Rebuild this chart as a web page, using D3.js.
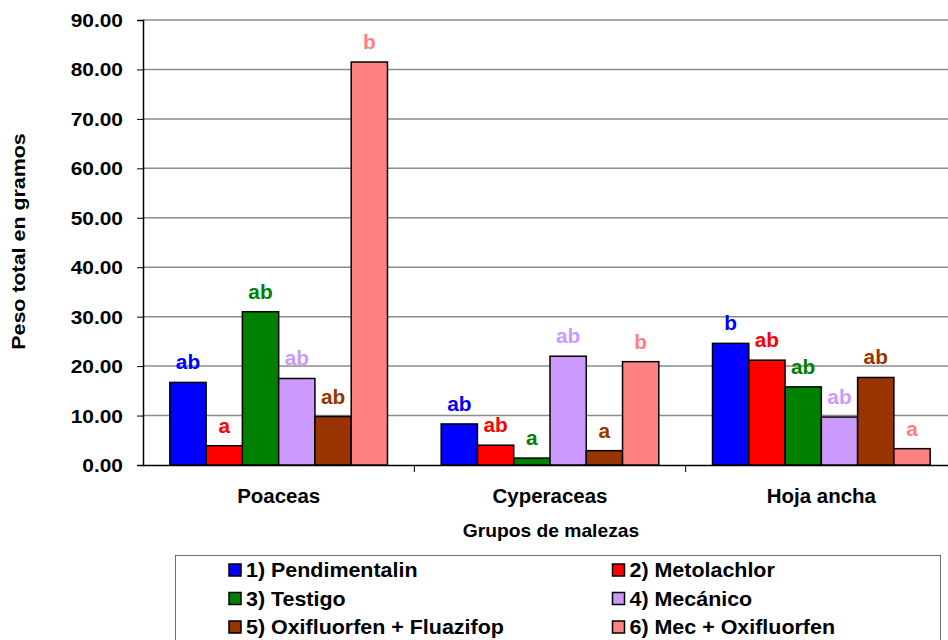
<!DOCTYPE html>
<html>
<head>
<meta charset="utf-8">
<script src="https://cdn.jsdelivr.net/npm/d3@7"></script>
<style>
  html, body { margin: 0; padding: 0; background: #fff; }
  svg { display: block; font-family: "Liberation Sans", Arial, sans-serif; font-weight: bold; }
</style>
</head>
<body>
<svg id="chart" width="948" height="640"></svg>
<script>
// Weed groups and treatments
const categories = ["Poaceas", "Cyperaceas", "Hoja ancha"];
const treatments = [
  "1) Pendimentalin", "2) Metolachlor", "3) Testigo",
  "4) Mecánico", "5) Oxifluorfen + Fluazifop", "6) Mec + Oxifluorfen"
];
const colors = ["#0000FF", "#FF0000", "#008000", "#CC99FF", "#993300", "#FF8080"];

// Total weight (g) per treatment, one array per weed group
const poaceas    = [16.7, 3.9, 31.0, 17.5, 9.8, 81.5];
const cyperaceas = [8.3, 4.0, 1.4, 22.0, 2.9, 20.9];
const hojaAncha  = [24.6, 21.2, 15.8, 9.7, 17.7, 3.3];

// Significance letters
const lettersPoaceas    = ["ab", "a", "ab", "ab", "ab", "b"];
const lettersCyperaceas = ["ab", "ab", "a", "ab", "a", "b"];
const lettersHojaAncha  = ["b", "ab", "ab", "ab", "ab", "a"];

const yTicks = [0, 10, 20, 30, 40, 50, 60, 70, 80, 90];

const values  = [poaceas, cyperaceas, hojaAncha];
const letters = [lettersPoaceas, lettersCyperaceas, lettersHojaAncha];

const svg = d3.select("#chart");
const plotLeft = 143, plotRight = 957, plotTop = 20, plotBottom = 465;

const x0 = d3.scaleBand().domain(categories).range([plotLeft, plotRight]).padding(0);
const x1 = d3.scaleBand().domain(d3.range(treatments.length))
  .range([0, x0.bandwidth()]).paddingInner(0).paddingOuter(0.74);
const y = d3.scaleLinear().domain([0, 90]).range([plotBottom, plotTop]);

// text helper with slight horizontal stretch
function label(g, txt, x, yy, size, sx, anchor, fill, rot) {
  return g.append("text")
    .attr("transform", `translate(${x},${yy})` + (rot ? ` rotate(${rot})` : "") + ` scale(${sx},1)`)
    .attr("text-anchor", anchor)
    .attr("font-size", size)
    .attr("fill", fill || "#000")
    .text(txt);
}

// gridlines
svg.append("g").selectAll("line").data(yTicks.filter(d => d > 0)).join("line")
  .attr("x1", plotLeft).attr("x2", 948)
  .attr("y1", d => y(d)).attr("y2", d => y(d))
  .attr("stroke", "#8c8c8c").attr("stroke-width", 1.5);

// y axis
const yAxis = svg.append("g").attr("transform", `translate(${plotLeft},0)`)
  .call(d3.axisLeft(y).tickValues(yTicks).tickSize(6).tickFormat(""));
yAxis.select(".domain").attr("stroke", "#000").attr("stroke-width", 1.5);
yAxis.selectAll(".tick line").attr("stroke", "#000");
const tickG = svg.append("g");
yTicks.forEach(t => label(tickG, d3.format(".2f")(t), 123, y(t) + 7, 19, 1.1, "end"));

// x axis
const xAxis = svg.append("g").attr("transform", `translate(0,${plotBottom})`)
  .call(d3.axisBottom(x0).tickSize(0).tickFormat(""));
xAxis.select(".domain").attr("stroke", "#000").attr("stroke-width", 1.5);
// category separators
svg.append("g").selectAll("line").data(categories.slice(1)).join("line")
  .attr("x1", d => x0(d)).attr("x2", d => x0(d))
  .attr("y1", plotBottom).attr("y2", plotBottom + 7)
  .attr("stroke", "#000");

const catG = svg.append("g");
categories.forEach(c => label(catG, c, x0(c) + x0.bandwidth() / 2, 503, 19.5, 1.05, "middle"));

// bars and letters
categories.forEach((c, ci) => {
  const g = svg.append("g").attr("transform", `translate(${x0(c)},0)`);
  g.selectAll("rect").data(values[ci]).join("rect")
    .attr("x", (d, i) => x1(i))
    .attr("y", d => y(d))
    .attr("width", x1.bandwidth())
    .attr("height", d => y(0) - y(d))
    .attr("fill", (d, i) => colors[i])
    .attr("stroke", "#000").attr("stroke-width", 1.5);
  values[ci].forEach((v, i) => {
    label(g, letters[ci][i], x1(i) + x1.bandwidth() / 2, y(v) - 13, 19.5, 1.07, "middle", colors[i]);
  });
});

// axis titles
label(svg, "Grupos de malezas", 551, 537, 17.5, 1.1, "middle");
label(svg, "Peso total en gramos", 25, 241.5, 18, 1.19, "middle", "#000", -90);

// legend
const lg = svg.append("g");
lg.append("rect").attr("x", 175.5).attr("y", 555.5).attr("width", 765).attr("height", 100)
  .attr("fill", "#fff").attr("stroke", "#6e6e6e").attr("stroke-width", 1);
treatments.forEach((t, i) => {
  const col = i % 2, row = Math.floor(i / 2);
  const sx = col === 0 ? 229 : 612.5;
  const by = 577 + row * 28.5;
  lg.append("rect").attr("x", sx).attr("y", by - 13).attr("width", 12).attr("height", 12)
    .attr("fill", colors[i]).attr("stroke", "#000").attr("stroke-width", 1.5);
  label(lg, t, sx + 17, by, 19.5, 1.1, "start");
});
</script>
</body>
</html>
